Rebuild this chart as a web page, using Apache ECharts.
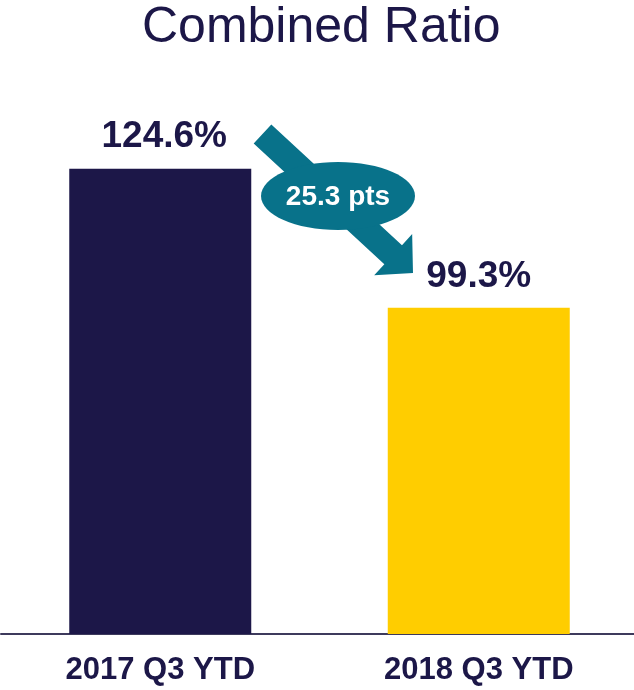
<!DOCTYPE html>
<html>
<head>
<meta charset="utf-8">
<title>Combined Ratio</title>
<script src="https://cdn.jsdelivr.net/npm/echarts@6/dist/echarts.min.js"></script>
<style>
  html, body { margin: 0; padding: 0; background: #ffffff; overflow: hidden; }
  #chart { width: 640px; height: 690px; }
</style>
</head>
<body>
<div id="chart"></div>
<script>
// Combined ratio, year-to-date through Q3
const categories = ['2017 Q3 YTD', '2018 Q3 YTD'];
const ratioValues = [124.6, 99.3];

const NAVY = '#1c1748';
const GOLD = '#ffcd00';
const TEAL = '#08728a';
const FONT = '"Liberation Sans", Arial, Helvetica, sans-serif';

const barColors = [NAVY, GOLD];
const labelShift = [[4, 0], [0, 0]];

const improvement = (ratioValues[0] - ratioValues[1]).toFixed(1) + ' pts';

// Improvement arrow drawn as one polygon (shaft + head), pointing down-right
function arrowPoints(tail, tip, shaftHalf, headHalf, headLen) {
  const dx = tip[0] - tail[0], dy = tip[1] - tail[1];
  const len = Math.hypot(dx, dy);
  const ux = dx / len, uy = dy / len;
  const nx = -uy, ny = ux;
  const bx = tip[0] - headLen * ux, by = tip[1] - headLen * uy;
  return [
    [tail[0] + shaftHalf * nx, tail[1] + shaftHalf * ny],
    [tail[0] - shaftHalf * nx, tail[1] - shaftHalf * ny],
    [bx - shaftHalf * nx, by - shaftHalf * ny],
    [bx - headHalf * nx, by - headHalf * ny],
    [tip[0], tip[1]],
    [bx + headHalf * nx, by + headHalf * ny],
    [bx + shaftHalf * nx, by + shaftHalf * ny]
  ];
}

const chart = echarts.init(document.getElementById('chart'), null, { renderer: 'canvas' });

chart.setOption({
  backgroundColor: '#ffffff',
  animation: false,
  title: {
    text: 'Combined Ratio',
    left: 137,
    top: -2,
    textStyle: { fontFamily: FONT, fontSize: 50, fontWeight: 'normal', color: NAVY }
  },
  grid: { left: 1, width: 637, top: 84, height: 550, containLabel: false },
  xAxis: {
    type: 'category',
    data: categories,
    axisLine: { show: true, lineStyle: { color: '#3d3a5c', width: 2 } },
    axisTick: { show: false },
    axisLabel: {
      margin: 21,
      fontFamily: FONT, fontSize: 31, fontWeight: 'bold', color: NAVY
    }
  },
  yAxis: {
    type: 'value',
    min: 40,
    max: 140,
    show: false,
    splitLine: { show: false }
  },
  series: [{
    type: 'bar',
    barWidth: 182,
    data: ratioValues.map((v, i) => ({
      value: v,
      itemStyle: { color: barColors[i] },
      label: { offset: labelShift[i] }
    })),
    label: {
      show: true,
      position: 'top',
      distance: 13,
      formatter: p => p.value.toFixed(1) + '%',
      fontFamily: FONT, fontSize: 37, fontWeight: 'bold', color: NAVY
    }
  }],
  graphic: [
    {
      type: 'polygon',
      z: 10,
      shape: { points: arrowPoints([262.5, 134], [413, 273], 13, 28, 27) },
      style: { fill: TEAL }
    },
    {
      type: 'ellipse',
      z: 11,
      shape: { cx: 338, cy: 196, rx: 77, ry: 34 },
      style: { fill: TEAL }
    },
    {
      type: 'text',
      z: 12,
      x: 338,
      y: 197,
      style: {
        text: improvement,
        fill: '#ffffff',
        font: 'bold 28px ' + FONT,
        align: 'center',
        verticalAlign: 'middle'
      }
    }
  ]
});
</script>
</body>
</html>
